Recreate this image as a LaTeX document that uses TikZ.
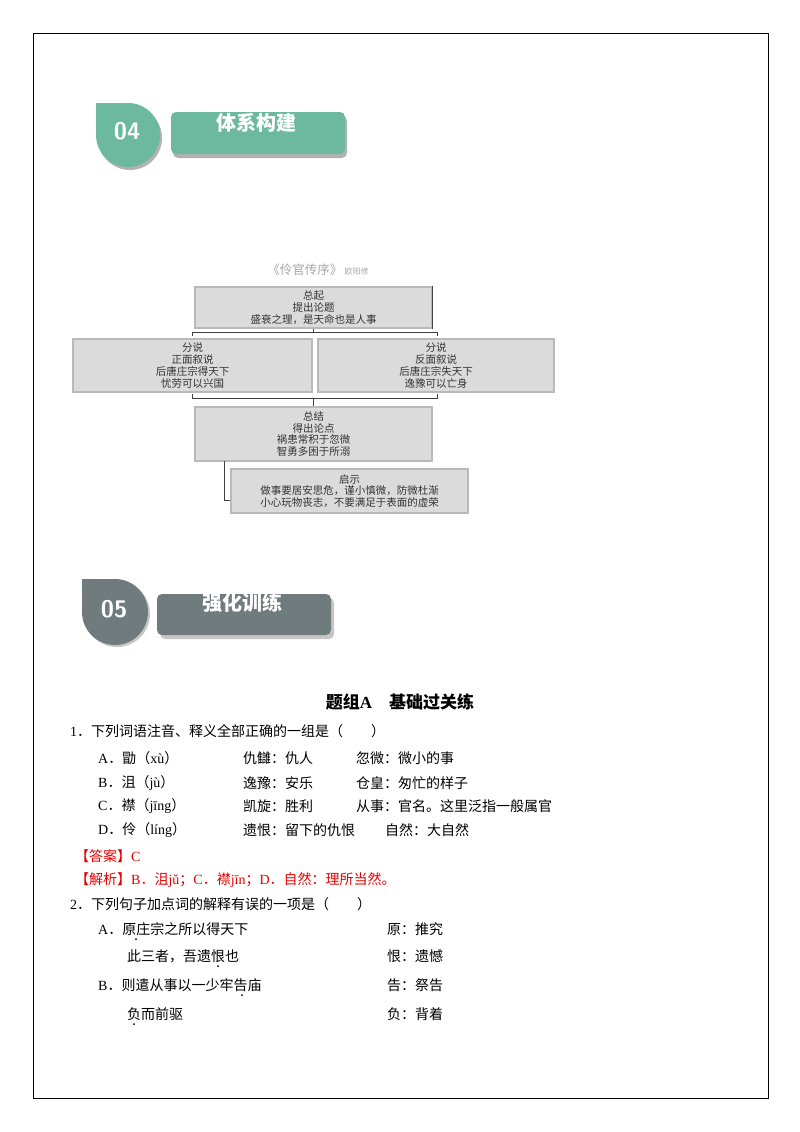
\documentclass[tikz,border=0pt]{standalone}
\usepackage{fontspec}
\setmainfont{Liberation Serif}
\newfontfamily\cjk{Noto Sans CJK SC}
\begin{document}
\begin{tikzpicture}[x=1pt,y=-1pt,
  txt/.style={anchor=west,inner sep=0pt,font=\cjk\fontsize{14}{16}\selectfont},
  red/.style={txt,text=red!90!black},
  gbox/.style={fill=gray!28,draw=gray!55,line width=1.2pt,align=center,inner sep=0pt,font=\cjk\fontsize{10.5}{11.8}\selectfont,text=black!80},
  conn/.style={draw=black!75,line width=0.8pt},
  dotm/.style={circle,fill=black,inner sep=0pt,minimum size=2pt}]
\definecolor{teal4}{HTML}{6CB9A0}
\definecolor{gray5}{HTML}{6F7B7D}
\useasboundingbox (0,0) rectangle (800,1132);
\fill[white] (0,0) rectangle (800,1132);
\draw[line width=0.8pt] (33,33) rectangle (768,1098);
% badge 04
\fill[gray!60] (98,138) -- (98,106) -- (130,106) arc(-90:180:32) -- cycle;
\fill[teal4] (96,135) -- (96,103) -- (128,103) arc(-90:180:32) -- cycle;
\node[font=\sffamily\bfseries\fontsize{24}{24}\selectfont,text=white] (n04) at (127,131) {04};
\fill[gray!60,rounded corners=5pt] (173,116) rectangle (347,158);
\fill[teal4,rounded corners=5pt] (171,112) rectangle (345,154);
\node[font=\cjk\bfseries\fontsize{20}{20}\selectfont,text=white] (t04) at (256,123) {体系构建};
% badge 05
\fill[gray!45] (85,614) -- (85,581) -- (117,581) arc(-90:180:33) -- cycle;
\fill[gray5] (82,612) -- (82,579) -- (115,579) arc(-90:180:33) -- cycle;
\node[font=\sffamily\bfseries\fontsize{24}{24}\selectfont,text=white] (n05) at (114,609) {05};
\fill[gray!45,rounded corners=5pt] (160,598) rectangle (334,639);
\fill[gray5,rounded corners=5pt] (157,594) rectangle (331,635);
\node[font=\cjk\bfseries\fontsize{20}{20}\selectfont,text=white] (t05) at (242,603) {强化训练};
% diagram
\node[font=\cjk\fontsize{12.5}{12.5}\selectfont,text=gray!70] (ttl) at (318,270) {《伶官传序》\,{\fontsize{8}{8}\selectfont 欧阳修}};
\node[gbox,minimum width=237,minimum height=41] (b1) at (313.5,307.5) {总起\\提出论题\\盛衰之理，是天命也是人事};
\node[gbox,minimum width=239,minimum height=53] (b2) at (192.5,365.5) {分说\\正面叙说\\后唐庄宗得天下\\忧劳可以兴国};
\node[gbox,minimum width=236,minimum height=53] (b3) at (436,365.5) {分说\\反面叙说\\后唐庄宗失天下\\逸豫可以亡身};
\node[gbox,minimum width=237,minimum height=54] (b4) at (313.5,434) {总结\\得出论点\\祸患常积于忽微\\智勇多困于所溺};
\node[gbox,minimum width=237,minimum height=44] (b5) at (349.5,491) {启示\\做事要居安思危，谨小慎微，防微杜渐\\小心玩物丧志，不要满足于表面的虚荣};
\draw[conn] (b1.north east) -- (b1.south east);
\draw[conn] (192,336) -- (192,332) -- (437,332) -- (437,336);
\draw[conn] (b1.south) -- (313.5,332);
\draw[conn] (192,394) -- (192,398) -- (437,398) -- (437,394);
\draw[conn] (313.5,398) -- (b4.north);
\draw[conn] (224,461) -- (224,500) -- (b5.west |- 0,500);
% body
\node[font=\cjk\bfseries\fontsize{17}{17}\selectfont] (h) at (400,702) {题组{\rmfamily A}\quad 基础过关练};
\node[txt] (q1) at (70,731) {{\rmfamily 1}．下列词语注音、释义全部正确的一组是（\qquad）};
\node[txt] (a1) at (98,758) {{\rmfamily A}．勖（{\rmfamily xù}）};
\node[txt] at (243,758) {仇讎：仇人};
\node[txt] at (356,758) {忽微：微小的事};
\node[txt] (b1t) at (98,783) {{\rmfamily B}．沮（{\rmfamily jù}）};
\node[txt] at (243,783) {逸豫：安乐};
\node[txt] at (356,783) {仓皇：匆忙的样子};
\node[txt] (c1) at (98,806) {{\rmfamily C}．襟（{\rmfamily jīng}）};
\node[txt] at (243,806) {凯旋：胜利};
\node[txt] at (356,806) {从事：官名。这里泛指一般属官};
\node[txt] (d1) at (98,830) {{\rmfamily D}．伶（{\rmfamily líng}）};
\node[txt] at (243,830) {遗恨：留下的仇恨};
\node[txt] at (385,830) {自然：大自然};
\node[red] (ans) at (75,856) {【答案】{\rmfamily C}};
\node[red] (exp) at (75,880) {【解析】{\rmfamily B}．沮{\rmfamily jǔ}；{\rmfamily C}．襟{\rmfamily jīn}；{\rmfamily D}．自然：理所当然。};
\node[txt] (q2) at (70,904) {{\rmfamily 2}．下列句子加点词的解释有误的一项是（\qquad）};
\node[txt] (a2) at (98,929) {{\rmfamily A}．原庄宗之所以得天下};
\node[txt] at (387,929) {原：推究};
\node[txt] (a3) at (127,956) {此三者，吾遗恨也};
\node[txt] at (387,956) {恨：遗憾};
\node[txt] (b2t) at (98,985) {{\rmfamily B}．则遣从事以一少牢告庙};
\node[txt] at (387,985) {告：祭告};
\node[txt] (b3t) at (127,1014) {负而前驱};
\node[txt] at (387,1014) {负：背着};
\node[dotm] at (136,939) {};
\node[dotm] at (218,966) {};
\node[dotm] at (242,995) {};
\node[dotm] at (134,1024) {};
\end{tikzpicture}
\end{document}
